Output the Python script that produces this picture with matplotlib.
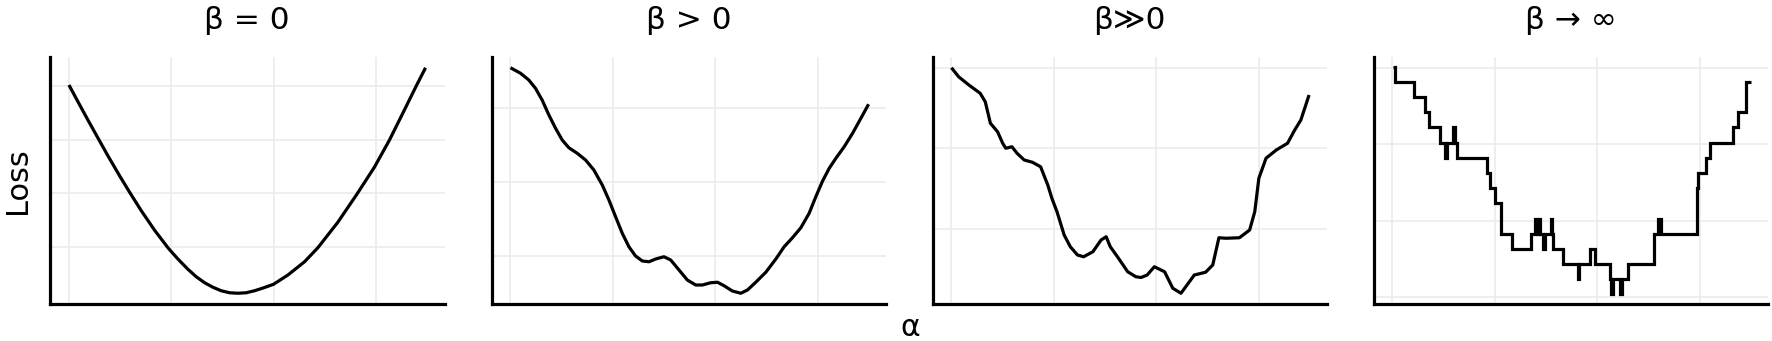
import matplotlib.pyplot as plt

plt.rcParams['font.family'] = ['DejaVu Sans']

# titles of the four panels
titles = ['β = 0', 'β > 0', 'β≫0', 'β → ∞']

# beta = 0 : smooth bowl
alpha_1 = [0.000, 0.088, 0.185, 0.283, 0.380, 0.494, 0.592, 0.706, 0.836, 0.966,
           1.063, 1.161, 1.242, 1.324, 1.405, 1.486, 1.567, 1.649, 1.730, 1.811,
           1.902, 1.997, 2.137, 2.299, 2.429, 2.624, 2.813, 2.982, 3.128, 3.258,
           3.389, 3.480]
loss_1 = [8.76, 8.09, 7.36, 6.64, 5.93, 5.13, 4.47, 3.73, 2.95, 2.25,
          1.80, 1.39, 1.09, 0.85, 0.67, 0.53, 0.45, 0.43, 0.45, 0.53,
          0.65, 0.79, 1.16, 1.69, 2.25, 3.27, 4.41, 5.48, 6.56, 7.63,
          8.72, 9.45]

# beta > 0 : a few soft bumps
alpha_2 = [0.000, 0.098, 0.179, 0.244, 0.309, 0.375, 0.440, 0.505, 0.570, 0.651,
           0.733, 0.814, 0.896, 0.961, 1.026, 1.091, 1.156, 1.221, 1.287, 1.352,
           1.417, 1.498, 1.564, 1.645, 1.726, 1.808, 1.873, 1.954, 2.020, 2.085,
           2.166, 2.248, 2.313, 2.394, 2.492, 2.590, 2.671, 2.752, 2.834, 2.915,
           2.980, 3.046, 3.111, 3.176, 3.257, 3.339, 3.420, 3.495]
loss_2 = [9.45, 9.23, 8.96, 8.63, 8.16, 7.56, 7.03, 6.56, 6.25, 6.03,
          5.76, 5.36, 4.76, 4.16, 3.49, 2.83, 2.29, 1.92, 1.72, 1.69,
          1.80, 1.89, 1.76, 1.36, 0.96, 0.76, 0.76, 0.85, 0.87, 0.73,
          0.52, 0.43, 0.56, 0.87, 1.27, 1.80, 2.29, 2.65, 3.05, 3.63,
          4.29, 4.92, 5.43, 5.83, 6.29, 6.83, 7.43, 7.99]

# beta >> 0 : rough
alpha_3 = [0.00, 0.07, 0.17, 0.28, 0.33, 0.38, 0.45, 0.50, 0.53, 0.59, 0.64, 0.71,
           0.79, 0.87, 0.94, 0.98, 1.03, 1.10, 1.16, 1.23, 1.29, 1.38, 1.46, 1.51,
           1.55, 1.62, 1.72, 1.80, 1.85, 1.91, 1.98, 2.08, 2.16, 2.24, 2.37, 2.48,
           2.55, 2.61, 2.68, 2.81, 2.91, 2.96, 3.00, 3.07, 3.17, 3.28, 3.35, 3.41, 3.49]
loss_3 = [9.45, 9.09, 8.76, 8.43, 8.09, 7.23, 6.89, 6.43, 6.23, 6.29, 6.03, 5.76,
          5.67, 5.49, 4.76, 4.23, 3.69, 2.76, 2.29, 1.96, 1.89, 2.09, 2.56, 2.69,
          2.29, 1.89, 1.29, 1.09, 1.06, 1.16, 1.49, 1.29, 0.63, 0.43, 1.16, 1.27,
          1.56, 2.65, 2.63, 2.65, 2.96, 3.69, 5.03, 5.83, 6.16, 6.43, 6.96, 7.36, 8.36]

# beta -> inf : quantised loss levels (step changes)
alpha_4 = [0.010, 0.027, 0.206, 0.320, 0.352, 0.467, 0.516, 0.532, 0.590, 0.614,
           0.626, 0.920, 0.952, 1.001, 1.057, 1.170, 1.350, 1.392, 1.407, 1.426,
           1.441, 1.470, 1.485, 1.543, 1.558, 1.571, 1.669, 1.806, 1.822, 1.930,
           1.979, 2.119, 2.133, 2.148, 2.222, 2.237, 2.300, 2.554, 2.593, 2.619,
           2.971, 2.984, 3.059, 3.101, 3.326, 3.369, 3.450, 3.500]
level_4 = [15, 14, 13, 12, 11, 10, 9, 10, 11, 10,
           9, 8, 7, 6, 4, 3, 4, 5, 4, 5,
           4, 3, 4, 5, 4, 3, 2, 1, 2, 3,
           2, 1, 0, 1, 0, 1, 2, 4, 5, 4,
           7, 8, 9, 10, 11, 12, 14, 14]

alphas = [alpha_1, alpha_2, alpha_3, alpha_4]
losses = [loss_1, loss_2, loss_3, level_4]

# grid breaks
x_breaks = [0, 1, 2, 3]
y_breaks = [[8.72, 6.56, 4.44, 2.28],
            [7.84, 4.88, 1.92],
            [9.45, 6.23, 2.99],
            [-0.15, 4.86, 9.89, 14.9]]
y_limits = [(0, 9.88), (0, 9.88), (0, 9.88), (-0.63, 15.64)]

W, H = 1772, 341
fig = plt.figure(figsize=(W / 100, H / 100), dpi=100)

lefts = [50, 491.5, 932.5, 1373.5]
for i in range(4):
    ax = fig.add_axes([lefts[i] / W, 37 / H, 394.5 / W, 247 / H])
    if i < 3:
        ax.plot(alphas[i], losses[i], color='black', lw=2.3,
                solid_joinstyle='round', solid_capstyle='butt')
    else:
        ax.plot(alphas[i], losses[i], color='black', lw=2.3, drawstyle='steps-post',
                solid_joinstyle='miter', solid_capstyle='butt')
    ax.set_xlim(-0.185, 3.665)
    ax.set_ylim(*y_limits[i])
    ax.set_xticks(x_breaks)
    ax.set_yticks(y_breaks[i])
    ax.grid(True, color='#ebebeb', lw=1.2)
    ax.set_axisbelow(True)
    ax.tick_params(length=0, labelbottom=False, labelleft=False)
    for s in ['top', 'right']:
        ax.spines[s].set_visible(False)
    for s in ['left', 'bottom']:
        ax.spines[s].set_linewidth(2.3)
        ax.spines[s].set_color('black')
    ax.set_title(titles[i], fontsize=22.5, pad=20)

fig.text(910 / W, 1 - 336.5 / H, 'α', fontsize=21.5, ha='center', va='baseline')
fig.text(26 / W, 1 - 180.7 / H, 'Loss', fontsize=22, rotation=90,
         rotation_mode='anchor', ha='center', va='baseline')

plt.savefig('out.png', dpi=100)
